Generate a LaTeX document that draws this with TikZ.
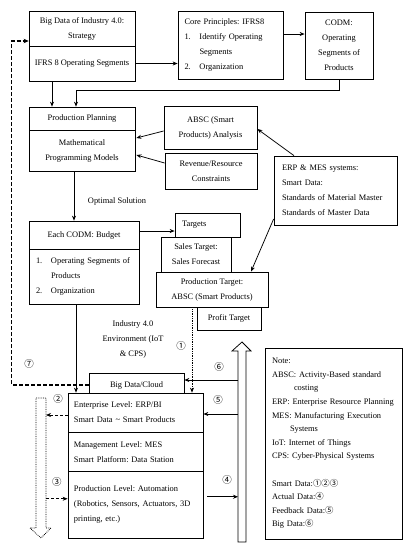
\documentclass[tikz,border=0pt]{standalone}
\usepackage{fontspec}
\setmainfont{Liberation Serif}
\newfontfamily\circfont{Noto Sans CJK JP}
\usetikzlibrary{calc,arrows.meta}
\newcommand{\fsz}{\fontsize{8.4}{15}\selectfont}
\newcommand{\nsz}{\fontsize{8.4}{13.6}\selectfont}
\newcommand{\cn}[1]{{\circfont #1}}
\frenchspacing
\begin{document}
\begin{tikzpicture}[x=1pt,y=-1pt,
  box/.style={draw, fill=white, line width=0.75pt, inner sep=0pt, font=\fsz, align=center},
  lbox/.style={box, align=left},
  arr/.style={-{Stealth[length=5pt,width=4pt]}, line width=0.75pt},
  dotarr/.style={arr, densely dotted},
  smalldash/.style={arr, densely dashed},
  bigdash/.style={-{Stealth[length=5pt,width=4.5pt]}, line width=1.2pt, dash pattern=on 4pt off 2pt},
  lbl/.style={font=\fsz, align=center, inner sep=0pt},
  circ/.style={font=\fontsize{9.5}{10}\circfont, inner sep=0pt}]
\useasboundingbox (0,0) rectangle (412,550);

% top row
\node[box, minimum width=106, minimum height=35] (bd) at (82,28.5) {Big Data of Industry 4.0:\\Strategy};
\node[box, minimum width=106, minimum height=35] (ifrs) at (82,63.5) {IFRS 8 Operating Segments};
\node[lbox, minimum width=105, minimum height=68, text width=92] (core) at (230.5,45)
  {Core Principles: IFRS8\\\makebox[15pt][l]{1.}Identify Operating\\\hspace*{15pt}Segments\\\makebox[15pt][l]{2.}Organization};
\node[box, minimum width=68, minimum height=67] (codm) at (339,45.5) {CODM:\\Operating\\Segments of\\Products};

% planning
\node[box, minimum width=106, minimum height=23] (pp) at (82,118.5) {Production Planning};
\node[box, minimum width=106, minimum height=41] (mm) at (82,150.5) {Mathematical\\Programming Models};
\node[box, minimum width=93, minimum height=43] (absc) at (210.5,127.5) {ABSC (Smart\\Products) Analysis};
\node[box, minimum width=92, minimum height=36] (rev) at (211,171) {Revenue/Resource\\Constraints};
\node[lbox, minimum width=123, minimum height=69, text width=107] (erp) at (335.5,190.5)
  {ERP \& MES systems:\\Smart Data:\\Standards of Material Master\\Standards of Master Data};

\node[lbl] (opt) at (117,201) {Optimal Solution};

% budget
\node[box, minimum width=110, minimum height=28] (ec) at (84,235) {Each CODM: Budget};
\node[lbox, minimum width=110, minimum height=55, text width=96] (ecl) at (84,276.5)
  {\makebox[15pt][l]{1.}Operating Segments of\\\hspace*{15pt}Products\\\makebox[15pt][l]{2.}Organization};
\node[lbox, minimum width=65, minimum height=24, text width=51] (targets) at (207.5,225) {Targets};
\node[box, minimum width=70, minimum height=35] (sales) at (196,254.5) {Sales Target:\\Sales Forecast};
\node[box, minimum width=112, minimum height=35] (prodt) at (212,289.5) {Production Target:\\ABSC (Smart Products)};
\node[box, minimum width=64, minimum height=23] (profit) at (229,318.5) {Profit Target};

\node[lbl] (ind) at (133,339) {Industry 4.0\\Environment (IoT\\\& CPS)};

% levels
\node[box, minimum width=95, minimum height=24] (bdc) at (136.5,385) {Big Data/Cloud};
\node[lbox, minimum width=135, minimum height=39, text width=123] (ent) at (135.5,412.5)
  {Enterprise Level: ERP/BI\\Smart Data \textasciitilde{} Smart Products};
\node[lbox, minimum width=135, minimum height=39.5, text width=123] (mgmt) at (135.5,451.75)
  {Management Level: MES\\Smart Platform: Data Station};
\node[lbox, minimum width=135, minimum height=66.5, text width=123] (prodl) at (135.5,504.75)
  {Production Level: Automation\\(Robotics, Sensors, Actuators, 3D\\printing, etc.)};

% note
\node[lbox, minimum width=137, minimum height=191, text width=123, font=\nsz] (note) at (333.5,443.5)
  {Note:\\
   ABSC: Activity-Based standard\\
   \hspace*{22pt}costing\\
   ERP: Enterprise Resource Planning\\
   MES: Manufacturing Execution\\
   \hspace*{18pt}Systems\\
   IoT: Internet of Things\\
   CPS: Cyber-Physical Systems\\[13.6pt]
   Smart Data:\cn{①②③}\\
   Actual Data:\cn{④}\\
   Feedback Data:\cn{⑤}\\
   Big Data:\cn{⑥}};

% hollow arrows
\draw[densely dotted, line width=0.75pt] (36,398) -- (46,398) -- (46,528) -- (51,528) -- (41,538) -- (30,528) -- (36,528) -- cycle;
\coordinate (lhr) at (46,470);
\draw[line width=0.75pt] (238,542) -- (246,542) -- (246,351) -- (251,351) -- (242,342) -- (232,351) -- (238,351) -- cycle;
\coordinate (rhl) at (238,450);

% connectors
\draw[arr] (ifrs.east) -- (ifrs.east -| core.west);
\path ($(core.east)+(0,-11)$) coordinate (c1);
\draw[arr] (c1) -- (c1 -| codm.west);
\draw[arr] (codm.south) -- ++(0,11) -| ($(pp.north)+(-6,0)$);
\draw[arr] ($(ifrs.south)+(-30,0)$) -- ($(pp.north)+(-30,0)$);
\draw[arr] ($(absc.west)+(0,3.5)$) -- ($(mm.east)+(1,-12.5)$);
\draw[arr] ($(rev.west)+(0,-8)$) -- ($(mm.east)+(1,4.5)$);
\draw[arr] ($(erp.north)+(-41.5,0)$) -- ($(absc.east)+(0,1.5)$);
\draw[arr] ($(erp.west)+(0,28.5)$) -- ($(prodt.north)+(39,0)$);
\path ($(mm.south)+(-8,0)$) coordinate (o1);
\draw[arr] (o1) -- (o1 |- ec.north);
\path ($(ec.east)+(0,-4)$) coordinate (t1);
\draw[arr] (t1) -- (t1 -| targets.west);
\path ($(ecl.south)+(-8,0)$) coordinate (e1);
\draw[arr] (e1) -- (e1 |- ent.north);
\path ($(prodt.south)+(-20,0)$) coordinate (d1);
\draw[dotarr] (d1) -- (d1 |- ent.north);
\draw[bigdash] (bdc.west) -| ($(bd.west)+(-17,12.5)$) -- ($(bd.west)+(0,12.5)$);
\path ($(ent.west)+(0,2.5)$) coordinate (l1);
\draw[smalldash] (l1) -- (l1 -| lhr);
\path ($(prodl.west)+(0,-6)$) coordinate (l2);
\draw[smalldash] (l2 -| lhr) -- (l2);
\path ($(bdc.east)+(0,-5)$) coordinate (r6);
\draw[arr] (r6 -| rhl) -- (r6);
\path ($(ent.east)+(0,1.5)$) coordinate (r5);
\draw[arr] (r5 -| rhl) -- (r5);
\path ($(prodl.east)+(4,-8)$) coordinate (r4);
\draw[arr] (r4) -- (r4 -| rhl);

% circled labels
\node[circ] (n1) at (181,346) {①};
\node[circ] (n2) at (58,399) {②};
\node[circ] (n3) at (57,482) {③};
\node[circ] (n4) at (227,480) {④};
\node[circ] (n5) at (218,400) {⑤};
\node[circ] (n6) at (219,367) {⑥};
\node[circ] (n7) at (29,364) {⑦};
\end{tikzpicture}
\end{document}
